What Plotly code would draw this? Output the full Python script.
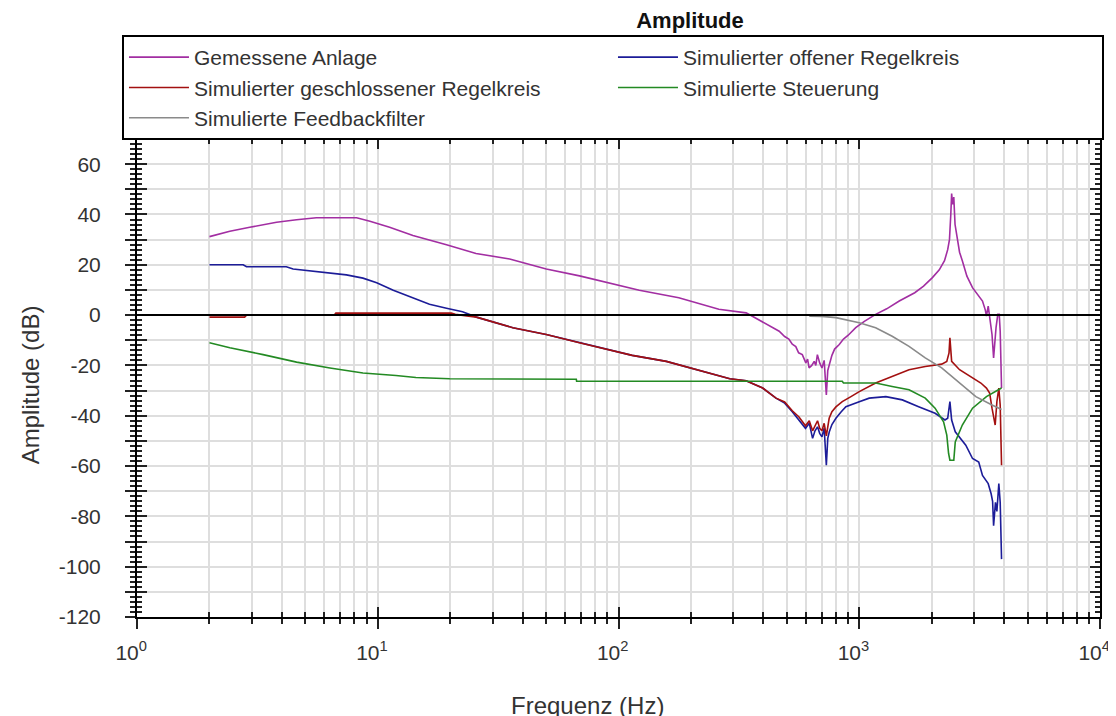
import plotly.graph_objects as go

# Frequenzgang-Daten (Hz / dB)
f_anlage = [2, 2.43, 2.94, 3.8, 4.6, 5.56, 8.17, 9.28, 11.2, 14.0, 19.3, 25.6, 35.3, 50.1, 68.9, 95,
            122, 178, 261, 339, 372, 465, 490, 510, 527, 545, 560, 580, 600, 610, 619, 635, 650, 660,
            670, 685, 700, 715, 730, 740, 751, 770, 790, 810, 826, 860, 900, 967, 1050, 1170, 1300,
            1466, 1600, 1700, 1850, 2013, 2150, 2260, 2330, 2370, 2400, 2420, 2440, 2470, 2500, 2553,
            2610, 2680, 2800, 2954, 3100, 3250, 3340, 3375, 3433, 3480, 3560, 3614, 3650, 3700, 3763,
            3815, 3850, 3900]
db_anlage = [31.2, 33.3, 34.9, 36.9, 37.9, 38.7, 38.7, 37.3, 34.9, 31.6, 28, 24.5, 22.3, 18.3, 15.6,
             12.3, 9.9, 6.9, 2.3, 0.9, -1.3, -6.4, -8.5, -9.5, -11.6, -12.5, -15, -15.7, -19, -17.5,
             -21, -20, -18.4, -20, -15.7, -19, -21, -18, -31.7, -22, -19.7, -16, -13.5, -12.5, -11.7,
             -9.5, -8, -5, -2.5, 0.3, 2.5, 5.6, 7.5, 8.9, 11.5, 14.9, 18, 21.6, 26, 30, 40, 48.3, 44,
             46.9, 36, 30.9, 25, 21.6, 15.5, 10.9, 8, 5.6, 2, -0.4, 3.6, -0.5, -7.7, -17, -10.4, -5,
             0.3, 0.3, -6.4, -29]

f_offen = [2, 2.76, 2.85, 4.17, 4.45, 5.23, 6.33, 7.41, 8.68, 9.9, 11.6, 14.0, 16.4, 19.3, 22.5, 25.7,
           36.4, 50.1, 68.8, 95, 114, 158, 210, 290, 339, 397, 451, 490, 527, 562, 598, 620, 640, 655,
           671, 685, 700, 715, 730, 740, 751, 770, 800, 840, 880, 1000, 1100, 1290, 1510, 1765, 2065,
           2270, 2330, 2380, 2420, 2505, 2770, 2955, 3135, 3250, 3433, 3530, 3580, 3614, 3680, 3730,
           3800, 3850, 3900]
db_offen = [20, 20, 19.2, 19.2, 18.3, 17.6, 16.9, 16, 14.7, 12.9, 9.9, 6.7, 4.3, 2.7, 1.3, -0.8, -5,
            -7.7, -11, -14.1, -16, -18.4, -21.7, -25.3, -26.1, -29, -33, -35, -38.4, -41.7, -45, -43,
            -49, -46, -44.4, -47, -48.4, -45, -59.7, -49, -46.4, -43.5, -41, -38.5, -36.4, -34.4, -33,
            -32.4, -33.7, -36.4, -39, -41.7, -41, -34.4, -41.7, -46.4, -51.7, -57, -58.4, -63.7, -67,
            -71, -74, -83.7, -74.4, -78, -67, -74.4, -97]

f_geschl = [2, 2.8, 2.85, 6.6, 6.7, 20.2, 21, 22.5, 25.7, 36.4, 50.1, 68.8, 95, 114, 158, 210, 290,
            339, 397, 451, 490, 527, 562, 598, 620, 640, 655, 671, 685, 700, 715, 730, 750, 770, 800,
            850, 920, 1000, 1170, 1370, 1610, 1880, 2200, 2310, 2360, 2380, 2400, 2420, 2610, 2955,
            3200, 3375, 3480, 3560, 3670, 3730, 3800, 3850, 3900]
db_geschl = [-0.8, -0.8, 0, 0, 0.8, 0.8, 0.3, 0, -0.8, -5, -7.7, -11, -14.1, -16, -18.4, -21.7, -25.3,
             -26.1, -29, -33, -34.5, -38, -40.5, -44, -42, -46, -44, -42, -45, -46, -43, -48, -41,
             -38.4, -36.5, -34.4, -32.5, -30.4, -27, -24.4, -21.7, -20.4, -19.5, -18.4, -15, -9, -15,
             -18.4, -21.7, -25, -27, -29, -31, -37, -43.7, -34.4, -29, -35.7, -59.7]

f_steuer = [2, 2.43, 3.34, 4.6, 6.33, 8.68, 11.9, 14.4, 19.9, 66.8, 67, 850, 860, 1170, 1370, 1610,
            1880, 2065, 2240, 2310, 2350, 2380, 2470, 2505, 2680, 2955, 3375, 3800, 3900]
db_steuer = [-11, -13, -15.7, -18.7, -21, -23, -24, -24.8, -25.3, -25.5, -26.3, -26.3, -27, -27, -28.4,
             -29.7, -33, -37, -42.4, -47.7, -55, -57.7, -57.7, -50.4, -43.7, -37, -32.4, -29.7, -29]

f_filter = [620, 700, 800, 1000, 1170, 1370, 1610, 1880, 2200, 2610, 3050, 3560, 3800, 3900]
db_filter = [-0.4, -0.5, -1, -3, -5, -8.4, -12.4, -17, -21, -27, -32.4, -35.7, -37, -37.5]

x_major = [1, 10, 100, 1000, 10000]
x_labels = ["10<sup>0</sup>\u00a0\u00a0", "10<sup>1</sup>\u00a0\u00a0", "10<sup>2</sup>\u00a0\u00a0",
            "10<sup>3</sup>\u00a0\u00a0", "10<sup>4</sup>\u00a0\u00a0"]
x_minor = [m * d for d in (1, 10, 100, 1000) for m in range(2, 10)]
y_major = list(range(-120, 71, 10))
y_labels = [str(v) if v % 20 == 0 else " " for v in y_major]

FONT = "Liberation Sans, Arial, sans-serif"

series = [
    ("Gemessene Anlage", f_anlage, db_anlage, "#a22ea2"),
    ("Simulierter offener Regelkreis", f_offen, db_offen, "#1c1c98"),
    ("Simulierter geschlossener Regelkreis", f_geschl, db_geschl, "#a31010"),
    ("Simulierte Steuerung", f_steuer, db_steuer, "#238a23"),
    ("Simulierte Feedbackfilter", f_filter, db_filter, "#8a8a8a"),
]

fig = go.Figure()
for name, fx, fy, col in series:
    fig.add_trace(go.Scatter(x=fx, y=fy, name=name, mode="lines",
                             line=dict(color=col, width=1.6)))

# helper trace so that the overlay axes (inner ticks) get drawn
fig.add_trace(go.Scatter(x=[1], y=[0], mode="lines", xaxis="x2", yaxis="y2",
                         showlegend=False, hoverinfo="skip"))

fig.add_shape(type="line", xref="paper", yref="y", x0=0, x1=1, y0=0, y1=0,
              line=dict(color="black", width=2), layer="above")

axcommon = dict(showline=True, linecolor="black", linewidth=2, tickcolor="#222",
                tickwidth=2, zeroline=False, automargin=False)

# page body has an 8px margin -> figure is 8px smaller than the window
fig.update_layout(
    width=1108, height=708,
    margin=dict(l=129, r=16, t=131, b=99),
    paper_bgcolor="white", plot_bgcolor="white",
    font=dict(family=FONT, color="#333"),
    title=dict(text="<b>Amplitude</b>", x=0.6155, xanchor="center", xref="container",
               y=0.983, yanchor="middle", yref="container",
               font=dict(size=22, color="#111")),
    xaxis=dict(type="log", range=[0, 4], tickmode="array", tickvals=x_major, ticktext=x_labels,
               ticks="outside", ticklen=10, showgrid=True, gridcolor="#dedede", gridwidth=2,
               tickfont=dict(size=21, color="#333"), ticklabelstandoff=6,
               ticklabeloverflow="allow",
               minor=dict(tickmode="array", tickvals=x_minor, ticks="outside", ticklen=5,
                          tickwidth=2, tickcolor="#222", showgrid=True, gridcolor="#dedede",
                          gridwidth=2),
               mirror=True, **axcommon),
    xaxis2=dict(type="log", matches="x", overlaying="x", side="bottom", tickmode="array",
                tickvals=x_major, showticklabels=False, ticks="inside", ticklen=10,
                showgrid=False, mirror="ticks",
                minor=dict(tickmode="array", tickvals=x_minor, ticks="inside", ticklen=5,
                           tickwidth=2, tickcolor="#222", showgrid=False),
                **axcommon),
    yaxis=dict(range=[-120, 70], tickmode="array", tickvals=y_major, ticktext=y_labels,
               ticks="outside", ticklen=10, showgrid=True, gridcolor="#dedede", gridwidth=2,
               tickfont=dict(size=21, color="#333"), ticklabelstandoff=20,
               minor=dict(dtick=2, ticks="outside", ticklen=5, tickwidth=2, tickcolor="#222",
                          showgrid=False),
               mirror=True, **axcommon),
    yaxis2=dict(matches="y", overlaying="y", side="left", tickmode="array", tickvals=y_major,
                showticklabels=False, ticks="inside", ticklen=10, showgrid=False, mirror="ticks",
                minor=dict(dtick=2, ticks="inside", ticklen=5, tickwidth=2, tickcolor="#222",
                           showgrid=False),
                **axcommon),
    legend=dict(orientation="h", x=-0.0156, xanchor="left", y=1.2176, yanchor="top",
                bgcolor="white", bordercolor="black", borderwidth=2,
                font=dict(size=21, color="#333"), itemwidth=60, entrywidth=414,
                entrywidthmode="pixels"),
    showlegend=True,
    annotations=[
        dict(text="Amplitude (dB)", xref="paper", yref="paper", x=-0.111, y=0.485,
             textangle=-90, showarrow=False, font=dict(size=24, color="#333"),
             xanchor="center", yanchor="middle"),
        dict(text="Frequenz (Hz)", xref="paper", yref="paper", x=0.468, y=-0.186,
             showarrow=False, font=dict(size=24, color="#333"),
             xanchor="center", yanchor="middle"),
    ],
)

fig.write_html("out.html")
